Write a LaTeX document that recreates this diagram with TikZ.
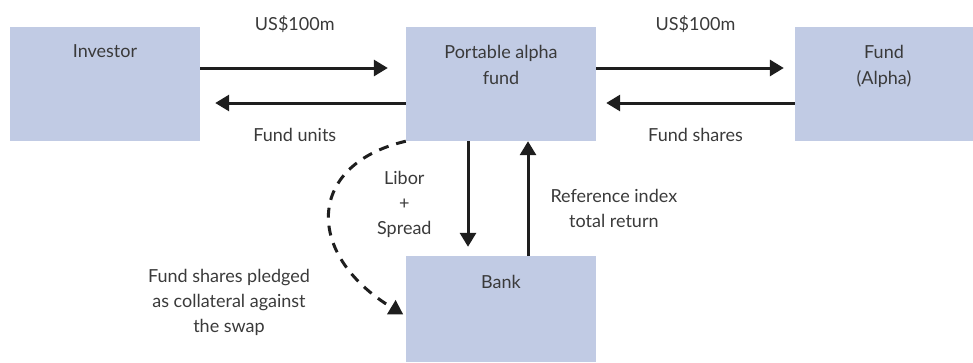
\documentclass[tikz,border=0pt]{standalone}
\usepackage{fontspec}
\setmainfont{Lato}
\usetikzlibrary{arrows.meta, positioning}
\definecolor{boxblue}{RGB}{193, 203, 228}
\definecolor{inkgrey}{RGB}{58, 58, 58}
\definecolor{arrowink}{RGB}{30, 30, 30}
\tikzset{
  flowbox/.style={rectangle, fill=boxblue, draw=none, inner sep=0pt,
                  minimum width=#1, minimum height=114pt},
  flowbox/.default=190pt,
  boxtext/.style={inner sep=0pt, align=center, text=inkgrey,
                  font=\fontsize{18}{26}\selectfont},
  flowlabel/.style={inner sep=0pt, align=center, text=inkgrey,
                    font=\fontsize{18}{25}\selectfont},
  flow/.style={-{Triangle[length=14pt, width=16pt]}, line width=3pt, draw=arrowink},
  pledge/.style={flow, dash pattern=on 10pt off 8pt},
}

\begin{document}
\begin{tikzpicture}[x=1pt, y=-1pt]
        \useasboundingbox (0,0) rectangle (973,362);

        % Boxes
        \node[flowbox] (investor) at (105,84) {};
        \node[flowbox] (portable) at (501,84) {};
        \node[flowbox=178pt] (alpha) at (884,84) {};
        \node[flowbox, minimum height=106pt] (bank) at (501,309) {};

        % Box texts
        \node[boxtext, below=18pt of investor.north] (investortext) {Investor};
        \node[boxtext, below=18pt of portable.north] (portabletext) {Portable alpha\\fund};
        \node[boxtext, below=18pt of alpha.north] (alphatext) {Fund\\(Alpha)};
        \node[boxtext, below=19pt of bank.north] (banktext) {Bank};

        % Investor and portable alpha fund
        \draw[flow, shorten >=18pt] ([yshift=16pt]investor.east) -- ([yshift=16pt]portable.west)
             node[flowlabel, pos=0.46, above=34pt] (cashin) {US\$100m};
        \draw[flow, shorten >=15pt] ([yshift=-19pt]portable.west) -- ([yshift=-19pt]investor.east)
             node[flowlabel, pos=0.54, below=24pt] (unitsout) {Fund units};

        % Portable alpha fund and fund (alpha)
        \draw[flow, shorten >=11pt] ([yshift=16pt]portable.east) -- ([yshift=16pt]alpha.west)
             node[flowlabel, midway, above=34pt] (cashout) {US\$100m};
        \draw[flow, shorten >=10pt] ([yshift=-19pt]alpha.west) -- ([yshift=-19pt]portable.east)
             node[flowlabel, midway, below=24pt] (sharesin) {Fund shares};

        % Swap with the bank
        \draw[flow, shorten >=9pt] ([xshift=-33pt]portable.south) -- ([xshift=-33pt]bank.north)
             node[flowlabel, midway, left=35pt, yshift=-6pt] (libor) {Libor\\+\\Spread};
        \draw[flow] ([xshift=27pt]bank.north) -- ([xshift=27pt]portable.south)
             node[flowlabel, midway, right=21pt, yshift=-10pt] (refindex) {Reference index\\total return};

        % Collateral
        \draw[pledge, shorten >=3pt] (portable.south west) .. controls (305,165) and (305,255)
             .. ([yshift=-7pt]bank.west);
        \node[flowlabel] (pledgetext) at (229,302) {Fund shares pledged\\as collateral against\\the swap};
      \end{tikzpicture}
\end{document}
